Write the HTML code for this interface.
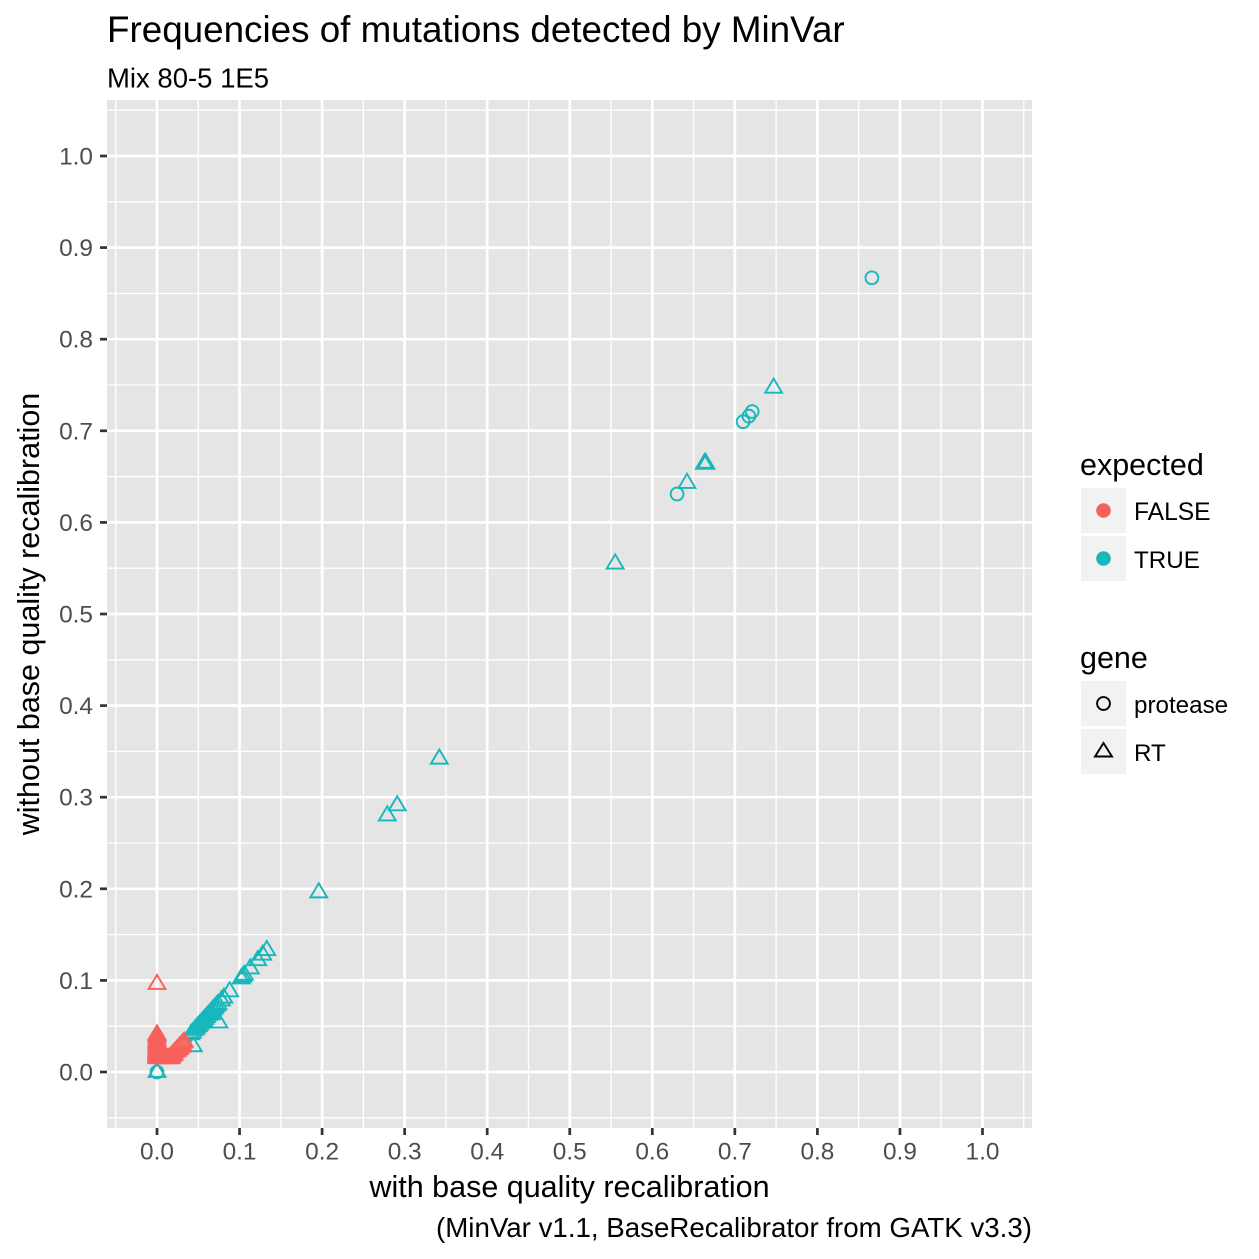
<!DOCTYPE html>
<html>
<head>
<meta charset="utf-8">
<style>
html,body{margin:0;padding:0;background:#fff;width:1259px;height:1259px;overflow:hidden}
svg{display:block;font-family:"Liberation Sans",Arial,sans-serif}
</style>
</head>
<body>
<svg id="chart" width="1259" height="1259" viewBox="0 0 1259 1259" xmlns="http://www.w3.org/2000/svg">
  <rect width="1259" height="1259" fill="#fff"/>
  <text x="107" y="42" font-size="36.8" fill="#000">Frequencies of mutations detected by MinVar</text>
  <text x="107" y="87.5" font-size="27.5" fill="#000">Mix 80-5 1E5</text>
  <rect x="107" y="100" width="925" height="1028" fill="#E5E5E5"/>
  <g id="grid"></g>
  <g id="axes"></g>
  <g id="marks"></g>
  <text x="569.5" y="1197" font-size="30.5" text-anchor="middle" fill="#000">with base quality recalibration</text>
  <text transform="translate(39,614) rotate(-90)" font-size="30.5" text-anchor="middle" fill="#000">without base quality recalibration</text>
  <text x="1032" y="1237" font-size="27.7" text-anchor="end" fill="#000">(MinVar v1.1, BaseRecalibrator from GATK v3.3)</text>

  <g>
    <text x="1080" y="475" font-size="30.5" fill="#000">expected</text>
    <rect x="1081" y="488" width="45" height="45" fill="#F2F2F2"/>
    <circle cx="1103.5" cy="510.5" r="7.3" fill="#F8605C"/>
    <text x="1134" y="520" font-size="24.6" fill="#000">FALSE</text>
    <rect x="1081" y="536" width="45" height="45" fill="#F2F2F2"/>
    <circle cx="1103.5" cy="558.5" r="7.3" fill="#17B7BC"/>
    <text x="1134" y="568" font-size="24.2" fill="#000">TRUE</text>
  </g>
  <g>
    <text x="1080" y="668" font-size="30.5" fill="#000">gene</text>
    <rect x="1081" y="681" width="45" height="45" fill="#F2F2F2"/>
    <circle cx="1103.5" cy="703.5" r="6.4" fill="none" stroke="#000" stroke-width="1.9"/>
    <text x="1134" y="713" font-size="24.2" fill="#000">protease</text>
    <rect x="1081" y="729" width="45" height="45" fill="#F2F2F2"/>
    <path d="M1103.5 743L1112 756.5L1095 756.5Z" fill="none" stroke="#000" stroke-width="1.9"/>
    <text x="1134" y="761" font-size="24.2" fill="#000">RT</text>
  </g>
</svg>
<script>
const xTickValues = [0.0, 0.1, 0.2, 0.3, 0.4, 0.5, 0.6, 0.7, 0.8, 0.9, 1.0];
const yTickValues = [0.0, 0.1, 0.2, 0.3, 0.4, 0.5, 0.6, 0.7, 0.8, 0.9, 1.0];
const xTickLabels = ["0.0", "0.1", "0.2", "0.3", "0.4", "0.5", "0.6", "0.7", "0.8", "0.9", "1.0"];
const yTickLabels = ["0.0", "0.1", "0.2", "0.3", "0.4", "0.5", "0.6", "0.7", "0.8", "0.9", "1.0"];
const minorBreaks = [-0.05, 0.05, 0.15, 0.25, 0.35, 0.45, 0.55, 0.65, 0.75, 0.85, 0.95, 1.05];

const trueRtX = [0, 0, 0.044, 0.041, 0.043, 0.046, 0.048, 0.050, 0.052, 0.054, 0.056, 0.058, 0.060, 0.062, 0.064, 0.066, 0.066, 0.068, 0.070, 0.072, 0.074, 0.075, 0.078, 0.081, 0.088, 0.102, 0.104, 0.106, 0.113, 0.122, 0.128, 0.133, 0.196, 0.279, 0.291, 0.342, 0.555, 0.642, 0.663, 0.664, 0.665, 0.747];
const trueRtY = [0, 0.040, 0.028, 0.041, 0.043, 0.046, 0.048, 0.050, 0.052, 0.054, 0.056, 0.058, 0.060, 0.062, 0.064, 0.063, 0.066, 0.068, 0.070, 0.072, 0.074, 0.054, 0.078, 0.081, 0.088, 0.102, 0.104, 0.106, 0.113, 0.122, 0.128, 0.133, 0.196, 0.280, 0.291, 0.342, 0.555, 0.643, 0.664, 0.665, 0.664, 0.747];
const trueProteaseX = [0, 0.630, 0.710, 0.717, 0.721, 0.866];
const trueProteaseY = [0, 0.631, 0.710, 0.716, 0.721, 0.867];
const falseRtX = [0, 0, 0, 0, 0, 0, 0, 0, 0, 0, 0, 0, 0, 0, 0, 0, 0, 0, 0, 0.004, 0.008, 0.012, 0.014, 0.016, 0.017, 0.018, 0.019, 0.020, 0.021, 0.022, 0.024, 0.025, 0.026, 0.027, 0.028, 0.029, 0.030, 0.031, 0.032, 0.033];
const falseRtY = [0.015, 0.016, 0.017, 0.018, 0.019, 0.020, 0.021, 0.022, 0.023, 0.024, 0.025, 0.027, 0.029, 0.031, 0.033, 0.035, 0.038, 0.041, 0.096, 0.015, 0.015, 0.015, 0.015, 0.016, 0.015, 0.018, 0.017, 0.020, 0.019, 0.022, 0.024, 0.023, 0.026, 0.025, 0.028, 0.027, 0.030, 0.029, 0.032, 0.033];
const falseProteaseX = [0, 0, 0];
const falseProteaseY = [0.016, 0.020, 0.024];

const colorTrue = "#17B7BC";
const colorFalse = "#F8605C";

function sx(v) { return 157 + v * 825.5; }
function sy(v) { return 1072 - v * 916; }

const NS = "http://www.w3.org/2000/svg";
const gridG = document.getElementById("grid");
const axesG = document.getElementById("axes");
const marksG = document.getElementById("marks");

function line(parent, x1, y1, x2, y2, stroke, width) {
  const l = document.createElementNS(NS, "line");
  l.setAttribute("x1", x1);
  l.setAttribute("y1", y1);
  l.setAttribute("x2", x2);
  l.setAttribute("y2", y2);
  l.setAttribute("stroke", stroke);
  l.setAttribute("stroke-width", width);
  parent.appendChild(l);
  return l;
}

minorBreaks.forEach(function (v) {
  const lv = line(gridG, sx(v), 100, sx(v), 1128, "#fff", 1.35);
  
  
  const lh = line(gridG, 107, sy(v), 1032, sy(v), "#fff", 1.35);
  
  
});

xTickValues.forEach(function (v, i) {
  const g = line(gridG, sx(v), 100, sx(v), 1128, "#fff", 2.7);
  
  
  const t = line(axesG, sx(v), 1128, sx(v), 1135, "#333", 2.7);
  
  
  const txt = document.createElementNS(NS, "text");
  
  
  txt.setAttribute("x", sx(v));
  txt.setAttribute("y", 1159.5);
  txt.setAttribute("text-anchor", "middle");
  txt.setAttribute("font-size", "24.4");
  txt.setAttribute("fill", "#4D4D4D");
  txt.textContent = xTickLabels[i];
  axesG.appendChild(txt);
});

yTickValues.forEach(function (v, i) {
  const g = line(gridG, 107, sy(v), 1032, sy(v), "#fff", 2.7);
  
  
  const t = line(axesG, 100, sy(v), 107, sy(v), "#333", 2.7);
  
  
  const txt = document.createElementNS(NS, "text");
  
  
  txt.setAttribute("x", 93);
  txt.setAttribute("y", sy(v) + 8.5);
  txt.setAttribute("text-anchor", "end");
  txt.setAttribute("font-size", "24.4");
  txt.setAttribute("fill", "#4D4D4D");
  txt.textContent = yTickLabels[i];
  axesG.appendChild(txt);
});

function triangle(xv, yv, color) {
  const cx = sx(xv);
  const cy = sy(yv);
  const p = document.createElementNS(NS, "path");
  
  
  p.setAttribute("d", "M" + cx + " " + (cy - 9.2) + "L" + (cx + 8.4) + " " + (cy + 4.9) + "L" + (cx - 8.4) + " " + (cy + 4.9) + "Z");
  p.setAttribute("fill", "none");
  p.setAttribute("stroke", color);
  p.setAttribute("stroke-width", "1.9");
  marksG.appendChild(p);
}

function circle(xv, yv, color) {
  const c = document.createElementNS(NS, "circle");
  
  
  c.setAttribute("cx", sx(xv));
  c.setAttribute("cy", sy(yv));
  c.setAttribute("r", "6.4");
  c.setAttribute("fill", "none");
  c.setAttribute("stroke", color);
  c.setAttribute("stroke-width", "1.9");
  marksG.appendChild(c);
}

trueRtX.forEach(function (v, i) { triangle(v, trueRtY[i], colorTrue); });
trueProteaseX.forEach(function (v, i) { circle(v, trueProteaseY[i], colorTrue); });
falseRtX.forEach(function (v, i) { triangle(v, falseRtY[i], colorFalse); });
falseProteaseX.forEach(function (v, i) { circle(v, falseProteaseY[i], colorFalse); });
</script>
</body>
</html>
